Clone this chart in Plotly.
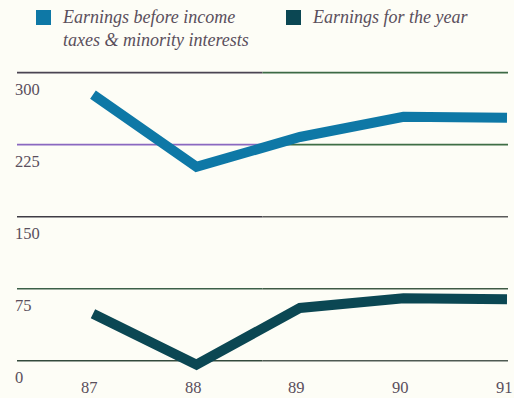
import plotly.graph_objects as go

# Fiscal years and earnings series
years = [87, 88, 89, 90, 91]
year_labels = ["87", "88", "89", "90", "91"]
earnings_before_taxes = [277, 202, 233, 254, 253]
earnings_for_year = [49, -4, 55, 65, 64]

y_ticks = [0, 75, 150, 225, 300]
y_tick_labels = ["0", "75", "150", "225", "300"]

series_names = ["Earnings before income<br>taxes &amp; minority interests", "Earnings for the year"]
series_colors = ["#0e78a6", "#0b4753"]

BG = "#fdfdf6"
TEXT = "#5a4f5c"
FONT = "Liberation Serif"

W, H = 514, 398
L, R, T, B = 17, 6, 63, 18
plot_w = W - L - R
plot_h = H - T - B


def px_x(px):
    return (px - L) / plot_w


def px_y(py):
    return (H - B - py) / plot_h


fig = go.Figure()
for vals, color, name in zip([earnings_before_taxes, earnings_for_year], series_colors, series_names):
    fig.add_trace(go.Scatter(
        x=years, y=vals, mode="lines", name=name,
        line=dict(color=color, width=10), cliponaxis=False, showlegend=False,
    ))

# Horizontal rules, each shaded from left to right
rule_colors = {
    300: ("#4b4552", "#3c6a45"),
    225: ("#8a68c0", "#3f6e45"),
    150: ("#3f3c44", "#5a5a5a"),
    75: ("#3c6048", "#3e5a44"),
    0: ("#344a3c", "#4e5a52"),
}
shapes = []
for v in y_ticks:
    c1, c2 = rule_colors[v]
    shapes.append(dict(type="line", xref="paper", yref="y", x0=0, x1=0.5, y0=v, y1=v,
                       line=dict(color=c1, width=1.6), layer="below"))
    shapes.append(dict(type="line", xref="paper", yref="y", x0=0.5, x1=1, y0=v, y1=v,
                       line=dict(color=c2, width=1.6), layer="below"))

annotations = []
for v, lab in zip(y_ticks, y_tick_labels):
    annotations.append(dict(
        x=px_x(13), y=v, xref="paper", yref="y", text=lab, showarrow=False,
        xanchor="left", yanchor="top", yshift=-5,
        font=dict(family=FONT, size=16.5, color=TEXT),
    ))

# Year labels under the plot, nudged slightly left of each point
for yr, lab in zip(years, year_labels):
    annotations.append(dict(
        x=yr, y=px_y(387), xref="x", yref="paper", text=lab, showarrow=False,
        xanchor="center", yanchor="middle", xshift=-3, borderpad=0,
        font=dict(family=FONT, size=16.5, color=TEXT),
    ))

# Legend: colour squares with italic captions
legend_items = [(36, 60), (286, 310)]
for (sx, tx), color, name in zip(legend_items, series_colors, series_names):
    shapes.append(dict(type="rect", xref="paper", yref="paper",
                       x0=px_x(sx), x1=px_x(sx + 15), y0=px_y(25), y1=px_y(10),
                       fillcolor=color, line=dict(width=0)))
    annotations.append(dict(
        x=px_x(tx), y=px_y(5), xref="paper", yref="paper", text="<i>" + name + "</i>",
        showarrow=False, xanchor="left", yanchor="top", align="left",
        font=dict(family=FONT, size=18, color=TEXT),
    ))

fig.update_layout(
    width=W, height=H,
    margin=dict(l=L, r=R, t=T, b=B),
    paper_bgcolor=BG, plot_bgcolor=BG,
    shapes=shapes, annotations=annotations,
    xaxis=dict(range=[86.266, 91.0097], showgrid=False, zeroline=False, showline=False,
               showticklabels=False, ticks="", automargin=False),
    yaxis=dict(range=[-20, 310], showgrid=False, zeroline=False, showline=False,
               showticklabels=False, ticks="", automargin=False),
)

fig.write_html("out.html")
